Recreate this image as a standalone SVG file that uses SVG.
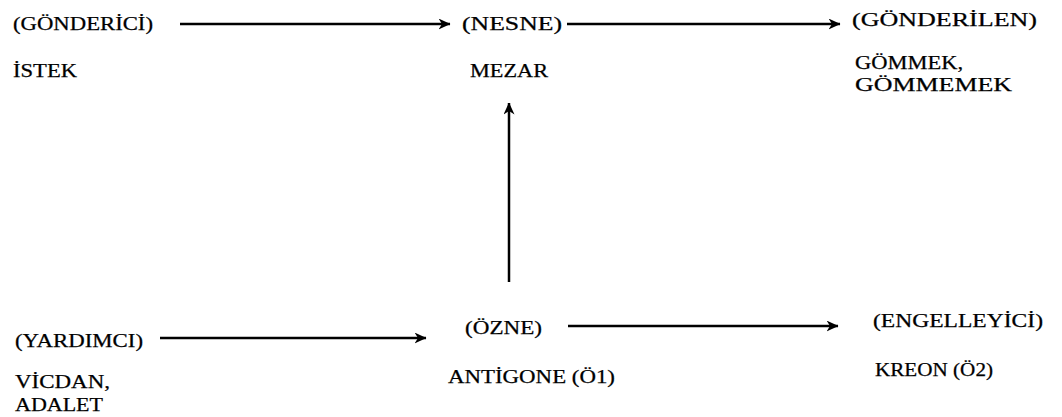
<svg xmlns="http://www.w3.org/2000/svg" width="1062" height="417" viewBox="0 0 1062 417">
<defs>
<style>
text{font-family:"Liberation Serif","Times New Roman",serif;font-size:19px;fill:#000;stroke:#000;stroke-width:0.25}
.c{stroke:#000;stroke-width:2.5;fill:none}
</style>
<marker id="ah" viewBox="0 0 12 11" refX="11.5" refY="5.5" markerWidth="12" markerHeight="11" markerUnits="userSpaceOnUse" orient="auto">
<path d="M0,0 L12,5.5 L0,11 L3.5,5.5 Z" fill="#000"/>
</marker>
</defs>
<rect width="1062" height="417" fill="#fff"/>
<g id="connectors">
<line class="c" x1="180" y1="24" x2="450" y2="24" marker-end="url(#ah)"/>
<line class="c" x1="567" y1="24" x2="840" y2="24" marker-end="url(#ah)"/>
<line class="c" x1="509" y1="282" x2="509" y2="103" marker-end="url(#ah)"/>
<line class="c" x1="160" y1="338" x2="426" y2="338" marker-end="url(#ah)"/>
<line class="c" x1="568" y1="326" x2="838" y2="326" marker-end="url(#ah)"/>
</g>
<g id="gonderici">
<text x="13" y="30" textLength="140" lengthAdjust="spacingAndGlyphs">(GÖNDERİCİ)</text>
<text x="13" y="77" textLength="64" lengthAdjust="spacingAndGlyphs">İSTEK</text>
</g>
<g id="nesne">
<text x="462" y="30" textLength="100" lengthAdjust="spacingAndGlyphs">(NESNE)</text>
<text x="470" y="77" textLength="78" lengthAdjust="spacingAndGlyphs">MEZAR</text>
</g>
<g id="gonderilen">
<text x="852" y="26" textLength="185" lengthAdjust="spacingAndGlyphs">(GÖNDERİLEN)</text>
<text x="855" y="69" textLength="108" lengthAdjust="spacingAndGlyphs">GÖMMEK,</text>
<text x="855" y="91" textLength="157" lengthAdjust="spacingAndGlyphs">GÖMMEMEK</text>
</g>
<g id="yardimci">
<text x="15" y="347" textLength="128" lengthAdjust="spacingAndGlyphs">(YARDIMCI)</text>
<text x="15" y="388" textLength="95" lengthAdjust="spacingAndGlyphs">VİCDAN,</text>
<text x="15" y="411" textLength="88" lengthAdjust="spacingAndGlyphs">ADALET</text>
</g>
<g id="ozne">
<text x="465" y="334" textLength="77" lengthAdjust="spacingAndGlyphs">(ÖZNE)</text>
<text x="448" y="383" textLength="167" lengthAdjust="spacingAndGlyphs">ANTİGONE (Ö1)</text>
</g>
<g id="engelleyici">
<text x="873" y="327" textLength="170" lengthAdjust="spacingAndGlyphs">(ENGELLEYİCİ)</text>
<text x="875" y="376" textLength="118" lengthAdjust="spacingAndGlyphs">KREON (Ö2)</text>
</g>
</svg>
